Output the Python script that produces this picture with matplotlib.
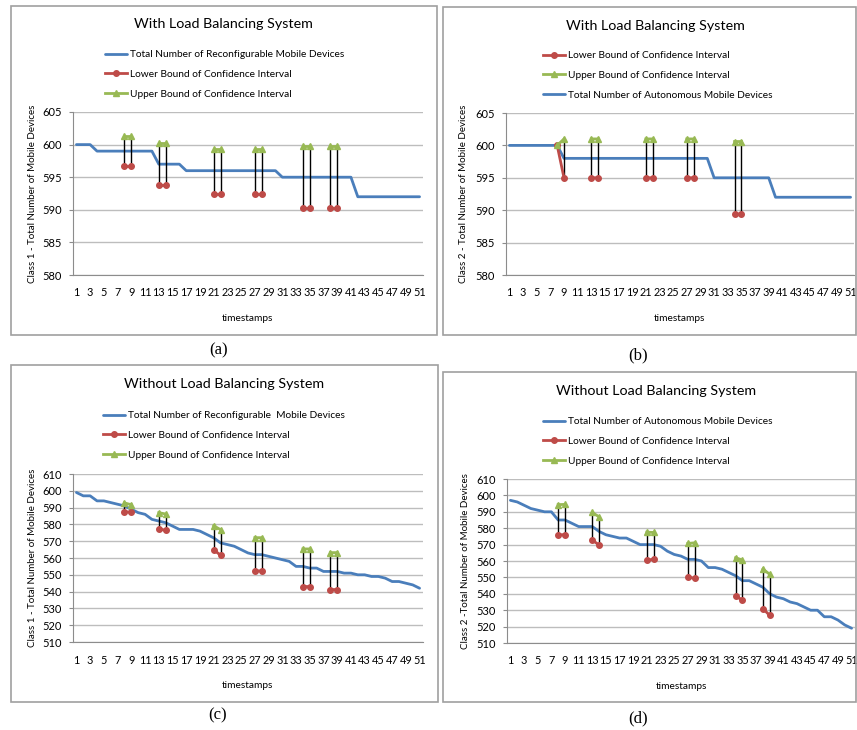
import numpy as np
import matplotlib
matplotlib.use('Agg')
import matplotlib.pyplot as plt
from matplotlib.patches import Rectangle

plt.rcParams['font.family'] = ['Lato', 'DejaVu Sans']

W, H = 857, 730

timestamps = np.arange(1, 52)

# (a) class 1, with load balancing
total_a = [600, 600, 600, 599, 599, 599, 599, 599, 599, 599,
           599, 599, 597, 597, 597, 597, 596, 596, 596, 596,
           596, 596, 596, 596, 596, 596, 596, 596, 596, 596,
           595, 595, 595, 595, 595, 595, 595, 595, 595, 595,
           595, 592, 592, 592, 592, 592, 592, 592, 592, 592, 592]
ci_t_a = [8, 9, 13, 14, 21, 22, 27, 28, 34, 35, 38, 39]
lower_a = [596.7, 596.7, 593.8, 593.8, 592.5, 592.5, 592.5, 592.5, 590.2, 590.2, 590.2, 590.2]
upper_a = [601.3, 601.3, 600.2, 600.2, 599.4, 599.4, 599.4, 599.4, 599.8, 599.8, 599.8, 599.8]

# (b) class 2, with load balancing
total_b = [600, 600, 600, 600, 600, 600, 600, 600, 598, 598,
           598, 598, 598, 598, 598, 598, 598, 598, 598, 598,
           598, 598, 598, 598, 598, 598, 598, 598, 598, 598,
           595, 595, 595, 595, 595, 595, 595, 595, 595, 592,
           592, 592, 592, 592, 592, 592, 592, 592, 592, 592, 592]
ci_t_b = [8, 9, 13, 14, 21, 22, 27, 28, 34, 35]
lower_b = [600, 595, 595, 595, 595, 595, 595, 595, 589.4, 589.4]
upper_b = [600, 601, 601, 601, 601, 601, 601, 601, 600.6, 600.6]

# (c) class 1, without load balancing
total_c = [599, 597, 597, 594, 594, 593, 592, 591, 589, 587,
           586, 583, 582, 581, 579, 577, 577, 577, 576, 574,
           572, 569, 568, 567, 565, 563, 562, 562, 561, 560,
           559, 558, 555, 555, 554, 554, 552, 552, 552, 551,
           551, 550, 550, 549, 549, 548, 546, 546, 545, 544, 542]
ci_t_c = [8, 9, 13, 14, 21, 22, 27, 28, 34, 35, 38, 39]
lower_c = [587.6, 587.2, 577.3, 576.5, 565.0, 561.6, 552.3, 552.3, 543.0, 543.0, 541.2, 541.2]
upper_c = [592.8, 591.7, 587.0, 586.2, 579.2, 576.9, 572.1, 572.1, 565.4, 565.4, 563.2, 563.2]

# (d) class 2, without load balancing
total_d = [597, 596, 594, 592, 591, 590, 590, 585, 585, 583,
           581, 581, 581, 578, 576, 575, 574, 574, 572, 570,
           570, 570, 569, 566, 564, 563, 561, 561, 560, 556,
           556, 555, 553, 551, 548, 548, 546, 544, 540, 538,
           537, 535, 534, 532, 530, 530, 526, 526, 524, 521, 519]
ci_t_d = [8, 9, 13, 14, 21, 22, 27, 28, 34, 35, 38, 39]
lower_d = [576.0, 576.0, 572.8, 569.7, 560.6, 561.0, 550.1, 549.5, 538.5, 536.3, 531.0, 526.8]
upper_d = [594.4, 594.5, 589.6, 586.9, 577.6, 577.4, 570.7, 571.1, 562.0, 560.6, 555.1, 551.9]

xtick_labels = [str(v) for v in range(1, 52, 2)]
yticks_top = list(range(580, 606, 5))
yticks_bottom = list(range(510, 611, 10))

blue = '#4A7EBB'
red = '#BE4B48'
green = '#98B954'


def fig_rect(x0, y0, x1, y1):
    return [x0 / W, 1 - y1 / H, (x1 - x0) / W, (y1 - y0) / H]


def with_gaps(t, vals):
    s = np.full(len(timestamps), np.nan)
    s[np.array(t) - 1] = vals
    return s


def panel(box, axpx, title, title_xy, leg_xy, order, total, total_label,
          ci_t, lower, upper, yticks, ylabel, ylabel_x, caption, cap_xy):
    fig.patches.append(Rectangle((box[0] / W, 1 - box[3] / H),
                                 (box[2] - box[0]) / W, (box[3] - box[1]) / H,
                                 transform=fig.transFigure, fill=False,
                                 edgecolor='#A0A0A0', lw=1.2))
    ax = fig.add_axes(fig_rect(*axpx))
    l_tot, = ax.plot(timestamps, total, color=blue, lw=2.0, zorder=3,
                     solid_capstyle='round')
    ax.vlines(ci_t, lower, upper, color='black', lw=1.0, zorder=4)
    l_low, = ax.plot(timestamps, with_gaps(ci_t, lower), color=red, lw=2.0,
                     marker='o', ms=4, zorder=5)
    l_up, = ax.plot(timestamps, with_gaps(ci_t, upper), color=green, lw=2.0,
                    marker='^', ms=5, zorder=5)

    ax.set_xlim(0.5, 51.5)
    ax.set_ylim(yticks[0], yticks[-1])
    ax.set_yticks(yticks)
    ax.set_xticks(range(1, 52, 2))
    ax.set_xticklabels(xtick_labels)
    ax.yaxis.grid(True, color='#BDBDBD', lw=1.0)
    ax.set_axisbelow(True)
    for s in ['top', 'right']:
        ax.spines[s].set_visible(False)
    for s in ['left', 'bottom']:
        ax.spines[s].set_color('#8C8C8C')
    ax.tick_params(axis='x', length=0, pad=9, labelsize=7.8)
    ax.tick_params(axis='y', length=3, pad=5, labelsize=8, color='#8C8C8C')
    ax.set_xlabel('timestamps', fontsize=7.3, labelpad=11)

    fig.text(ylabel_x / W, 1 - (axpx[1] + axpx[3]) / 2 / H, ylabel,
             rotation=90, ha='center', va='center', fontsize=7)
    fig.text(title_xy[0] / W, 1 - title_xy[1] / H, title,
             ha='center', va='center', fontsize=10.3)

    lines = {'total': (l_tot, total_label),
             'lower': (l_low, 'Lower Bound of Confidence Interval'),
             'upper': (l_up, 'Upper Bound of Confidence Interval')}
    handles = [lines[k][0] for k in order]
    labels = [lines[k][1] for k in order]
    fig.legend(handles, labels, loc='upper left',
               bbox_to_anchor=(leg_xy[0] / W, 1 - leg_xy[1] / H),
               frameon=False, fontsize=7.3, handlelength=2.2, handletextpad=0.3,
               labelspacing=1.05, borderpad=0, borderaxespad=0)

    fig.text(cap_xy[0] / W, 1 - cap_xy[1] / H, caption, ha='center',
             va='center', fontsize=12, family='Liberation Serif')


fig = plt.figure(figsize=(W / 100, H / 100), dpi=100)

panel((11, 6, 437, 335), (73, 112, 423, 275), 'With Load Balancing System',
      (223, 24), (105, 50), ['total', 'lower', 'upper'], total_a,
      'Total Number of Reconfigurable Mobile Devices',
      ci_t_a, lower_a, upper_a, yticks_top,
      'Class 1 - Total Number of Mobile Devices', 33, '(a)', (219, 350))

panel((443, 7, 856, 335), (506, 113, 854, 275), 'With Load Balancing System',
      (655, 26), (543, 51), ['lower', 'upper', 'total'], total_b,
      'Total Number of Autonomous Mobile Devices',
      ci_t_b, lower_b, upper_b, yticks_top,
      'Class 2 - Total Number of Mobile Devices', 464, '(b)', (638, 355))

panel((11, 365, 438, 702), (73, 474, 423, 642), 'Without Load Balancing System',
      (224, 384), (103, 411), ['total', 'lower', 'upper'], total_c,
      'Total Number of Reconfigurable  Mobile Devices',
      ci_t_c, lower_c, upper_c, yticks_bottom,
      'Class 1 - Total Number of Mobile Devices', 33, '(c)', (218, 715))

panel((443, 372, 856, 702), (507, 479, 855, 643), 'Without Load Balancing System',
      (656, 391), (543, 417), ['total', 'lower', 'upper'], total_d,
      'Total Number of Autonomous Mobile Devices',
      ci_t_d, lower_d, upper_d, yticks_bottom,
      'Class 2 -Total Number of Mobile Devices', 465, '(d)', (638, 718))

fig.savefig('out.png', dpi=100)
